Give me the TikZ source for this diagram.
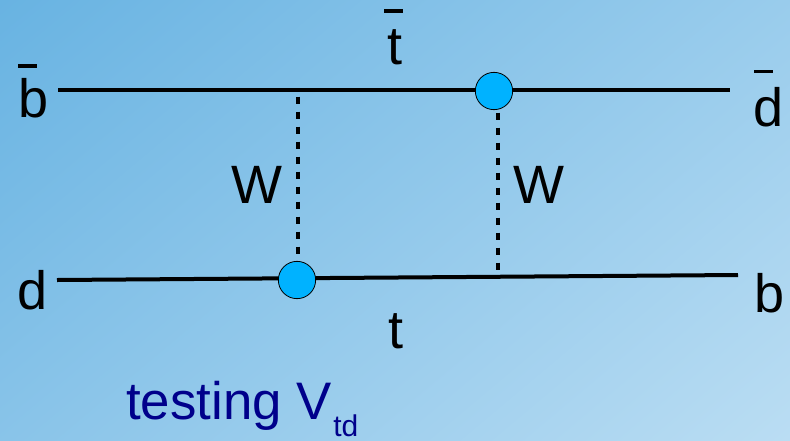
\documentclass[tikz,border=0pt]{standalone}
\usepackage{fontspec}
\setmainfont{Liberation Sans}
\definecolor{bgA}{RGB}{104,179,226}
\definecolor{bgB}{RGB}{186,221,243}
\definecolor{vtx}{RGB}{0,178,255}
\definecolor{navyt}{RGB}{0,0,139}
\tikzset{
  fermion/.style={line width=3pt,black},
  wline/.style={line width=3pt,black,dash pattern=on 5.4pt off 5.85pt},
  vertexdot/.style={circle,draw=black,line width=.6pt,fill=vtx,minimum size=28pt,inner sep=0pt},
  lab/.style={font=\fontsize{40.5pt}{40.5pt}\selectfont,text=black,anchor=base,inner sep=0pt},
  barmark/.style={line width=2.5pt,black},
  notet/.style={anchor=base west,inner sep=0pt,text=navyt}
}
\begin{document}
\begin{tikzpicture}[x=.75pt,y=-.75pt]
\useasboundingbox (0,0) rectangle (790,440);
\begin{scope}
\clip (0,0) rectangle (790,440);
\shade[top color=bgA,bottom color=bgB,shading angle=40] (-27.5,-202.5) rectangle (817.5,642.5);
\end{scope}
% coordinates
\coordinate (tl) at (58,90);
\coordinate (tr) at (730,90);
\coordinate (bl) at (57,280);
\coordinate (br) at (738,275);
\coordinate (w1t) at (297.6,96.5);
\coordinate (w1b) at (297.6,254);
\coordinate (w2t) at (498.3,112.7);
\coordinate (w2b) at (498.3,270);
% lines
\draw[fermion] (tl) -- (tr);
\draw[fermion] (bl) -- (br);
\draw[wline] (w1t) -- (w1b);
\draw[wline] (w2t) -- (w2b);
% vertices
\node[vertexdot] (v1) at (494,91) {};
\node[vertexdot] (v2) at (297,280) {};
% labels
\node[lab] (lbbar) at (33.5,117) {b};
\draw[barmark] (18,66) -- (37,66);
\node[lab] (ltbar) at (395,64) {t};
\draw[barmark] (384,11) -- (403,11);
\node[lab] (ldbar) at (768.5,126) {d};
\draw[barmark] (754,71.5) -- (773,71.5);
\node[lab] (lw1) at (257,203) {W};
\node[lab] (lw2) at (539,203) {W};
\node[lab] (ld) at (33,309) {d};
\node[lab] (lb) at (769.5,312) {b};
\node[lab] (lt) at (396,348) {t};
\node[notet,font=\fontsize{39.6pt}{39.6pt}\selectfont] (test) at (126,419) {testing V};
\node[notet,font=\fontsize{22.5pt}{22.5pt}\selectfont] (td) at (333,436) {td};
\end{tikzpicture}
\end{document}
